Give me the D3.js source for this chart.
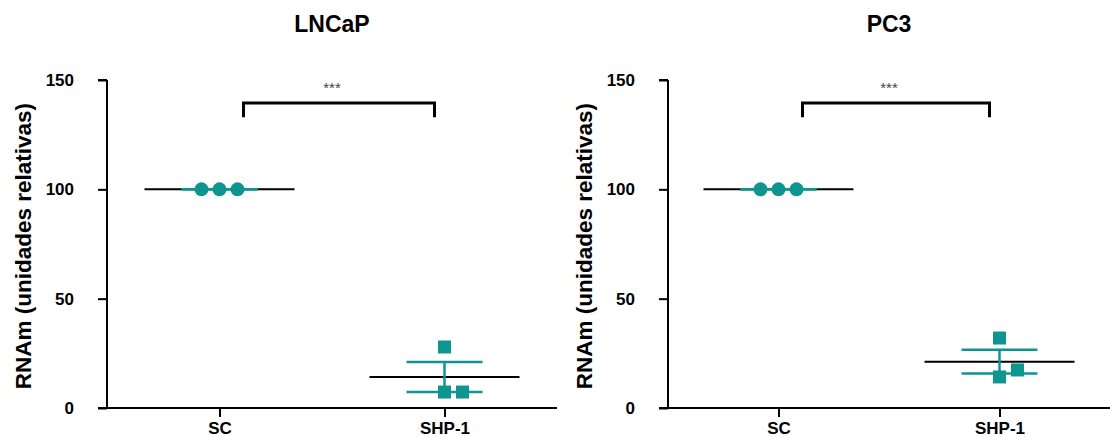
<!DOCTYPE html>
<html>
<head>
<meta charset="utf-8">
<script src="https://cdn.jsdelivr.net/npm/d3@7"></script>
<style>
  body { margin: 0; background: #fff; }
  text { font-family: "Liberation Sans", Arial, sans-serif; }
</style>
</head>
<body>
<div id="chart"></div>
<script>
// data
var groups = ["SC", "SHP-1"];
var panelTitles = ["LNCaP", "PC3"];
var lncapSC = [100, 100, 100];
var lncapSHP = [27.9, 7.3, 7.3];
var pc3SC = [100, 100, 100];
var pc3SHP = [32.0, 14.2, 17.4];
var yTicks = [0, 50, 100, 150];
var stars = ["***", "***"];
var yLabel = "RNAm (unidades relativas)";

var teal = "#0f958f";

var svg = d3.select("#chart")
  .append("svg")
    .attr("width", 1110)
    .attr("height", 437);

var y = d3.scaleLinear()
  .domain([0, 150])
  .range([408, 80]);

function mean(a) { return d3.mean(a); }
function sem(a) { return d3.deviation(a) / Math.sqrt(a.length); }

// spread overlapping points sideways (0, +1, -1, +2 ...)
function spread(vals) {
  var placed = [];
  return vals.map(v => {
    var order = [0, 1, -1, 2, -2];
    for (var k of order) {
      var hit = placed.some(p => p.k === k && Math.abs(y(p.v) - y(v)) < 13);
      if (!hit) { placed.push({v: v, k: k}); return {v: v, k: k}; }
    }
    return {v: v, k: 0};
  });
}

function drawPanel(title, data, shapes, star, x0, x1) {
  var g = svg.append("g");

  var x = d3.scalePoint()
    .domain(groups)
    .range([x0, x1])
    .padding(0.5);

  // axes
  var yAxis = d3.axisLeft(y).tickValues(yTicks).tickSize(9).tickPadding(24);
  g.append("g")
    .attr("transform", "translate(" + x0 + ",0)")
    .call(yAxis)
    .call(a => a.select(".domain").attr("stroke-width", 2).attr("d", "M0," + y(150) + "H-9M0," + y(150) + "V" + y(0)))
    .call(a => a.selectAll(".tick line").attr("stroke-width", 2))
    .call(a => a.selectAll(".tick text")
      .style("font-size", "17px").style("font-weight", "bold").attr("fill", "#000"));

  var xAxis = d3.axisBottom(x).tickSize(9).tickPadding(5);
  g.append("g")
    .attr("transform", "translate(0," + y(0) + ")")
    .call(xAxis)
    .call(a => a.select(".domain").attr("stroke-width", 2).attr("d", "M" + (x0 - 9) + ",0H" + x1))
    .call(a => a.selectAll(".tick line").attr("stroke-width", 2))
    .call(a => a.selectAll(".tick text")
      .style("font-size", "17px").style("font-weight", "bold").attr("fill", "#000"));

  // y label
  g.append("text")
    .attr("transform", "translate(" + (x0 - 76) + "," + y(74) + ") rotate(-90)")
    .attr("text-anchor", "middle")
    .style("font-size", "22.5px")
    .style("font-weight", "bold")
    .text(yLabel);

  // title
  g.append("text")
    .attr("x", (x(groups[0]) + x(groups[1])) / 2)
    .attr("y", 32)
    .attr("text-anchor", "middle")
    .style("font-size", "23px")
    .style("font-weight", "bold")
    .text(title);

  // mean and SEM lines, points
  groups.forEach((grp, i) => {
    var vals = data[i];
    var cx = x(grp);
    var m = mean(vals), s = sem(vals);

    g.append("line")
      .attr("x1", cx - 75).attr("x2", cx + 75)
      .attr("y1", y(m)).attr("y2", y(m))
      .attr("stroke", "#000").attr("stroke-width", 2);

    g.append("line")
      .attr("x1", cx).attr("x2", cx)
      .attr("y1", y(m + s)).attr("y2", y(m - s))
      .attr("stroke", teal).attr("stroke-width", 2.5);
    [m + s, m - s].forEach(v => {
      g.append("line")
        .attr("x1", cx - 38).attr("x2", cx + 38)
        .attr("y1", y(v)).attr("y2", y(v))
        .attr("stroke", teal).attr("stroke-width", 2.5);
    });

    var pts = spread(vals);
    if (shapes[i] === "circle") {
      g.selectAll(null)
        .data(pts)
        .join("circle")
          .attr("cx", d => cx + d.k * 18)
          .attr("cy", d => y(d.v))
          .attr("r", 7)
          .attr("fill", teal);
    } else {
      g.selectAll(null)
        .data(pts)
        .join("rect")
          .attr("x", d => cx + d.k * 18 - 6.5)
          .attr("y", d => y(d.v) - 6.5)
          .attr("width", 13)
          .attr("height", 13)
          .attr("fill", teal);
    }
  });

  // significance bracket
  var bx1 = x(groups[0]) + 24, bx2 = x(groups[1]) - 10;
  g.append("path")
    .attr("d", "M" + bx1 + "," + y(133) + "V" + y(139.5) + "H" + bx2 + "V" + y(133))
    .attr("fill", "none")
    .attr("stroke", "#000")
    .attr("stroke-width", 3);
  g.append("text")
    .attr("x", (x(groups[0]) + x(groups[1])) / 2)
    .attr("y", 93)
    .attr("text-anchor", "middle")
    .style("font-size", "15px")
    .attr("fill", "#444")
    .text(star);
}

drawPanel(panelTitles[0], [lncapSC, lncapSHP], ["circle", "square"], stars[0], 107, 557);
drawPanel(panelTitles[1], [pc3SC, pc3SHP], ["circle", "square"], stars[1], 668, 1110);
</script>
</body>
</html>
